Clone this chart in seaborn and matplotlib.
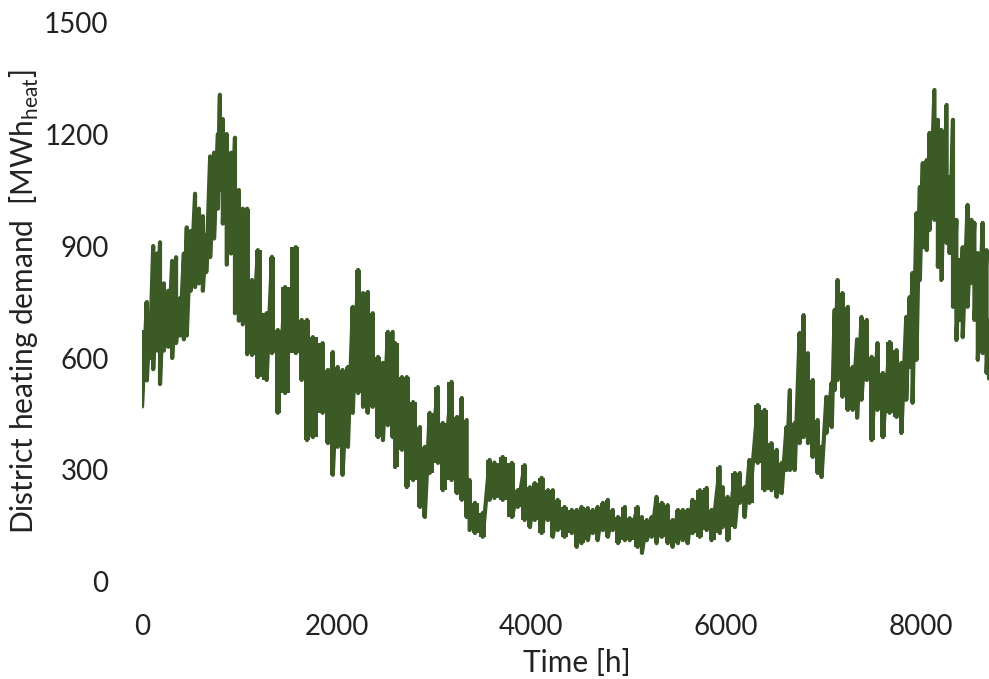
import numpy as np
import pandas as pd
import matplotlib
matplotlib.use("Agg")
import matplotlib.pyplot as plt
import seaborn as sns

# Hourly district heating demand, read as upper / lower envelope per time slice
column_hours = [
    0, 50, 80, 115, 155, 185, 225, 270, 310, 350, 390, 430, 460, 500, 545, 585,
    625, 660, 700, 740, 780, 800, 830, 870, 915, 955, 995, 1035, 1080,
    1130, 1190, 1280, 1335, 1395, 1470, 1580, 1640, 1695, 1755, 1855, 1910,
    1960, 2010, 2060, 2115, 2165, 2220, 2270,
    2320, 2370, 2425, 2475, 2525, 2575, 2600, 2670, 2720, 2785, 2855, 2905,
    2955, 3040, 3090, 3180, 3235, 3285, 3335, 3365, 3420, 3500,
    3570, 3620, 3705, 3800, 3860, 3930, 3985, 4035, 4105, 4170, 4220, 4270,
    4340, 4415, 4465, 4515, 4580, 4630, 4680, 4735,
    4785, 4835, 4890, 4960, 5010, 5090, 5135, 5185, 5235, 5285, 5340, 5400,
    5450, 5505, 5555, 5605, 5655, 5730, 5800, 5850, 5935, 5965, 6015, 6090,
    6140, 6190, 6240, 6325, 6395, 6465, 6520, 6570, 6620, 6655, 6705, 6755,
    6795, 6840, 6890, 6940, 6980, 7030, 7085, 7115, 7145, 7195, 7250, 7300,
    7345, 7390,
    7445, 7495, 7555, 7610, 7680, 7750, 7800, 7850, 7885, 7915, 7955, 7990,
    8020, 8060, 8090, 8140, 8175, 8210, 8265, 8295, 8330, 8365, 8400, 8430,
    8480, 8520, 8550, 8585, 8635, 8675, 8700,
]
peak_demand = [
    670, 750, 700, 900, 880, 910, 800, 780, 860, 870, 760, 880, 950, 940, 1040, 1000,
    980, 930, 1140, 1150, 1200, 1305, 1240, 1200, 1150, 1190, 1050, 1000, 1000,
    809, 889, 720, 871, 675, 790, 897, 702, 702, 656, 640, 568,
    616, 576, 568, 576, 737, 836, 774,
    777, 720, 603, 587, 670, 670, 640, 549, 549, 482, 415, 362,
    453, 522, 426, 536, 442, 493, 434, 273, 212, 185,
    327, 320, 335, 319, 246, 313, 254, 265, 279, 246, 246, 220,
    201, 193, 193, 201, 198, 193, 201, 212,
    220, 193, 174, 201, 171, 201, 174, 166, 174, 228, 212, 206,
    166, 193, 193, 193, 220, 246, 252, 193, 308, 254, 228, 292,
    292, 254, 327, 474, 461, 372, 354, 319, 415, 514, 426, 667,
    715, 613, 541, 434, 362, 496, 533, 729, 809, 774, 737, 576,
    650, 710,
    702, 603, 640, 560, 643, 621, 587, 710, 763, 828, 988, 1058,
    1122, 1130, 1203, 1318, 1238, 1211, 1278, 1085, 1238, 970, 863, 897,
    1010, 970, 962, 881, 962, 889, 700,
]
trough_demand = [
    470, 540, 600, 570, 620, 530, 620, 630, 600, 640, 660, 650, 660, 780, 790, 800,
    780, 830, 870, 920, 1000, 1050, 960, 850, 880, 720, 700, 690, 610,
    608, 549, 541, 613, 453, 506, 613, 541, 380, 388, 453, 372,
    287, 362, 287, 362, 453, 506, 469,
    453, 469, 388, 380, 420, 388, 308, 354, 254, 273, 201, 174,
    292, 319, 246, 273, 238, 220, 174, 139, 131, 121,
    220, 225, 220, 174, 201, 166, 147, 166, 131, 166, 121, 139,
    121, 131, 94, 104, 112, 131, 112, 139,
    121, 139, 104, 112, 112, 94, 78, 112, 121, 104, 121, 104,
    94, 104, 112, 104, 131, 121, 139, 112, 131, 147, 112, 147,
    212, 174, 212, 319, 246, 246, 228, 238, 300, 300, 300, 372,
    388, 372, 335, 292, 281, 399, 415, 514, 541, 496, 461, 461,
    440, 488,
    541, 380, 461, 388, 453, 442, 399, 488, 576, 480, 595, 809,
    897, 889, 943, 970, 844, 809, 908, 881, 737, 648, 702, 656,
    737, 801, 702, 595, 613, 560, 545,
]

x_ticks = [0, 2000, 4000, 6000, 8000]
y_ticks = [0, 300, 600, 900, 1200, 1500]

line_color = "#3b5a26"
text_color = "#222222"

# Interleave the envelope readings into one continuous hourly trace
hours, demand = [], []
for h, hi, lo in zip(column_hours, peak_demand, trough_demand):
    hours += [h, h]
    demand += [hi, lo]
df = pd.DataFrame({"Time [h]": hours, "demand": demand})

sns.set_style("white")
plt.rcParams["font.family"] = ["Lato", "DejaVu Sans"]
plt.rcParams["mathtext.fontset"] = "custom"
plt.rcParams["mathtext.rm"] = "Lato"

fig = plt.figure(figsize=(9.89, 6.79), dpi=100)
ax = fig.add_axes([142 / 989, (679 - 582) / 679, (989 - 142) / 989, (582 - 22) / 679])

# daily swing band underneath the hourly trace
ax.fill_between(column_hours, trough_demand, peak_demand, step="mid",
                color=line_color, linewidth=0)
sns.lineplot(data=df, x="Time [h]", y="demand", sort=False, estimator=None,
             color=line_color, linewidth=3.0, ax=ax)

ax.set_xlim(0, 8700)
ax.set_ylim(0, 1500)
ax.set_xticks(x_ticks)
ax.set_yticks(y_ticks)
ax.tick_params(axis="both", length=0, labelsize=20, colors=text_color)
ax.tick_params(axis="x", pad=23)
ax.tick_params(axis="y", pad=24)
for s in ax.spines.values():
    s.set_visible(False)

ax.set_xlabel("Time [h]", fontsize=21.5, color=text_color)
ax.xaxis.set_label_coords(0.514, -0.145)
ax.xaxis.label.set_verticalalignment("center")
ax.set_ylabel(r"District heating demand  [MWh$_{\mathrm{heat}}$]", fontsize=21.5,
              color=text_color, labelpad=2)

fig.savefig("out.png", dpi=100)
